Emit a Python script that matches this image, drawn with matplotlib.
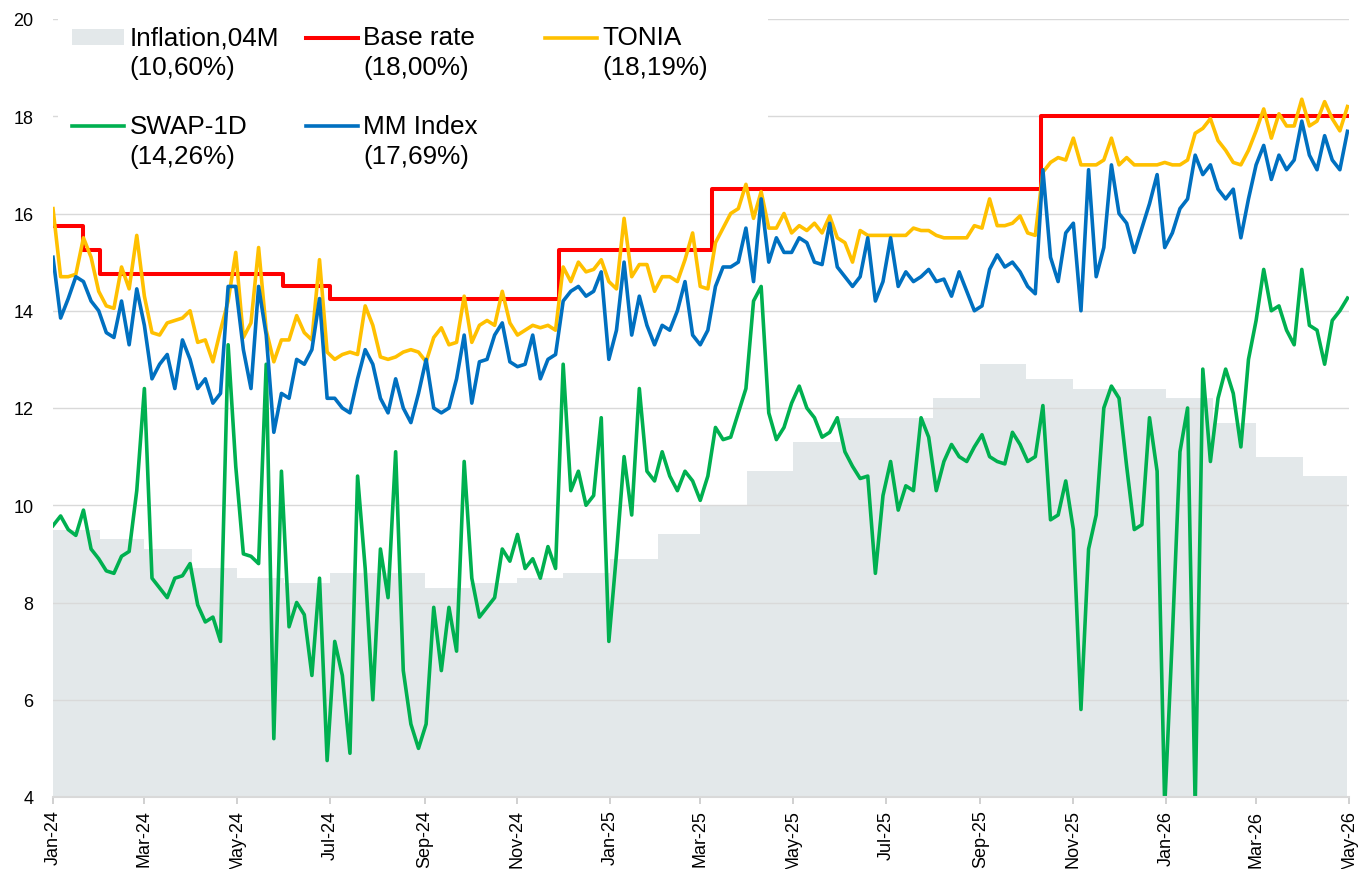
import matplotlib.pyplot as plt
import matplotlib.dates as mdates
from matplotlib.artist import Artist
from matplotlib.patches import Rectangle
from matplotlib.transforms import Affine2D
import pandas as pd

plt.rcParams['font.family'] = ['Liberation Sans', 'DejaVu Sans']

obs_dates = pd.date_range('2024-01-01', periods=171, freq='5D')

tonia = [
    16.1, 14.7, 14.7, 14.75, 15.5, 15.1, 14.4, 14.1, 14.05, 14.9,
    14.45, 15.55, 14.3, 13.55, 13.5, 13.75, 13.8, 13.85, 14.0, 13.35,
    13.4, 12.95, 13.6, 14.2, 15.2, 13.45, 13.75, 15.3, 13.6, 12.95,
    13.4, 13.4, 13.9, 13.55, 13.4, 15.05, 13.15, 13.0, 13.1, 13.15,
    13.1, 14.1, 13.7, 13.05, 13.0, 13.05, 13.15, 13.2, 13.15, 12.95,
    13.45, 13.65, 13.3, 13.35, 14.3, 13.35, 13.7, 13.8, 13.7, 14.4,
    13.75, 13.5, 13.6, 13.7, 13.65, 13.7, 13.6, 14.9, 14.6, 15.0,
    14.8, 14.85, 15.05, 14.6, 14.45, 15.9, 14.7, 14.95, 14.95, 14.4,
    14.7, 14.7, 14.6, 15.05, 15.6, 14.5, 14.45, 15.4, 15.7, 16.0,
    16.1, 16.6, 15.9, 16.45, 15.7, 15.7, 16.0, 15.6, 15.75, 15.65,
    15.8, 15.6, 15.95, 15.5, 15.4, 15.0, 15.65, 15.55, 15.55, 15.55,
    15.55, 15.55, 15.55, 15.7, 15.65, 15.65, 15.55, 15.5, 15.5, 15.5,
    15.5, 15.75, 15.7, 16.3, 15.75, 15.75, 15.8, 15.95, 15.6, 15.55,
    16.85, 17.05, 17.15, 17.1, 17.55, 17.0, 17.0, 17.0, 17.1, 17.55,
    17.0, 17.15, 17.0, 17.0, 17.0, 17.0, 17.05, 17.0, 17.0, 17.1,
    17.65, 17.75, 17.95, 17.5, 17.3, 17.05, 17.0, 17.3, 17.7, 18.15,
    17.55, 18.05, 17.8, 17.8, 18.35, 17.8, 17.9, 18.3, 17.95, 17.7,
    18.2,
]

mm_index = [
    15.1, 13.85, 14.25, 14.7, 14.6, 14.2, 14.0, 13.55, 13.45, 14.2,
    13.3, 14.45, 13.7, 12.6, 12.9, 13.1, 12.4, 13.4, 13.0, 12.4,
    12.6, 12.1, 12.3, 14.5, 14.5, 13.2, 12.4, 14.5, 13.5, 11.5,
    12.3, 12.2, 13.0, 12.9, 13.2, 14.25, 12.2, 12.2, 12.0, 11.9,
    12.6, 13.2, 12.9, 12.2, 11.9, 12.6, 12.0, 11.7, 12.3, 13.0,
    12.0, 11.9, 12.0, 12.6, 13.5, 12.1, 12.95, 13.0, 13.5, 13.75,
    12.95, 12.85, 12.9, 13.5, 12.6, 13.0, 13.1, 14.2, 14.4, 14.5,
    14.3, 14.4, 14.8, 13.0, 13.6, 15.0, 13.5, 14.3, 13.7, 13.3,
    13.7, 13.6, 14.0, 14.6, 13.5, 13.3, 13.6, 14.5, 14.9, 14.9,
    15.0, 15.7, 14.6, 16.3, 15.0, 15.5, 15.2, 15.2, 15.5, 15.4,
    15.0, 14.95, 15.8, 14.9, 14.7, 14.5, 14.7, 15.5, 14.2, 14.6,
    15.5, 14.5, 14.8, 14.6, 14.7, 14.85, 14.6, 14.65, 14.3, 14.8,
    14.4, 14.0, 14.1, 14.85, 15.15, 14.9, 15.0, 14.8, 14.5, 14.35,
    16.9, 15.1, 14.6, 15.6, 15.8, 14.0, 16.9, 14.7, 15.3, 17.0,
    16.0, 15.8, 15.2, 15.7, 16.2, 16.8, 15.3, 15.6, 16.1, 16.3,
    17.2, 16.8, 17.0, 16.5, 16.3, 16.5, 15.5, 16.3, 17.0, 17.4,
    16.7, 17.2, 16.9, 17.1, 17.9, 17.2, 16.9, 17.6, 17.1, 16.9,
    17.69,
]

swap_1d = [
    9.58, 9.78, 9.5, 9.38, 9.9, 9.1, 8.9, 8.65, 8.6, 8.95,
    9.05, 10.3, 12.4, 8.5, 8.3, 8.1, 8.5, 8.55, 8.8, 7.95,
    7.6, 7.7, 7.2, 13.3, 10.8, 9.0, 8.95, 8.8, 12.9, 5.2,
    10.7, 7.5, 8.0, 7.75, 6.5, 8.5, 4.75, 7.2, 6.5, 4.9,
    10.6, 8.7, 6.0, 9.1, 8.1, 11.1, 6.6, 5.5, 5.0, 5.5,
    7.9, 6.6, 7.9, 7.0, 10.9, 8.5, 7.7, 7.9, 8.1, 9.1,
    8.85, 9.4, 8.7, 8.9, 8.5, 9.15, 8.7, 12.9, 10.3, 10.7,
    10.0, 10.2, 11.8, 7.2, 9.0, 11.0, 9.8, 12.4, 10.7, 10.5,
    11.1, 10.6, 10.3, 10.7, 10.5, 10.1, 10.6, 11.6, 11.35, 11.4,
    11.9, 12.4, 14.2, 14.5, 11.9, 11.35, 11.6, 12.1, 12.45, 12.0,
    11.8, 11.4, 11.5, 11.8, 11.1, 10.8, 10.55, 10.6, 8.6, 10.2,
    10.9, 9.9, 10.4, 10.3, 11.8, 11.4, 10.3, 10.9, 11.25, 11.0,
    10.9, 11.2, 11.45, 11.0, 10.9, 10.85, 11.5, 11.25, 10.9, 11.0,
    12.05, 9.7, 9.8, 10.5, 9.5, 5.8, 9.1, 9.8, 12.0, 12.45,
    12.2, 10.8, 9.5, 9.6, 11.8, 10.7, 3.8, 7.3, 11.1, 12.0,
    3.8, 12.8, 10.9, 12.2, 12.8, 12.3, 11.2, 13.0, 13.8, 14.85,
    14.0, 14.1, 13.6, 13.3, 14.85, 13.7, 13.6, 12.9, 13.8, 14.0,
    14.26,
]

# Base rate: date of each decision and the new level
base_rate_dates = pd.to_datetime([
    '2024-01-01', '2024-01-21', '2024-02-01', '2024-05-31', '2024-07-01',
    '2024-11-28', '2025-03-09', '2025-10-11', '2026-04-30',
])
base_rate = [15.75, 15.25, 14.75, 14.5, 14.25, 15.25, 16.5, 18.0, 18.0]

# Monthly inflation
infl_months = pd.date_range('2024-01-01', periods=28, freq='MS')
inflation = [
    9.5, 9.3, 9.1, 8.7, 8.5, 8.4, 8.6, 8.6, 8.3, 8.4, 8.5, 8.6,
    8.9, 9.4, 10.0, 10.7, 11.3, 11.8, 11.8, 12.2, 12.9, 12.6, 12.4, 12.4,
    12.2, 11.7, 11.0, 10.6,
]

labels = {
    'infl': 'Inflation,04M\n(10,60%)',
    'base': 'Base rate\n(18,00%)',
    'tonia': 'TONIA\n(18,19%)',
    'swap': 'SWAP-1D\n(14,26%)',
    'mm': 'MM Index\n(17,69%)',
}

fig, ax = plt.subplots(figsize=(13.59, 8.70), dpi=100)
fig.subplots_adjust(left=53 / 1359, right=1349 / 1359, bottom=72 / 870, top=850 / 870)

infl_x = list(infl_months) + [pd.Timestamp('2026-04-30')]
infl_y = inflation + [inflation[-1]]
h_infl = ax.fill_between(infl_x, infl_y, 0, step='post', color='#e3e8ea',
                         lw=0, zorder=0.3, label=labels['infl'])
h_base, = ax.plot(base_rate_dates, base_rate, drawstyle='steps-post',
                  color='#ff0000', lw=2.9, label=labels['base'], zorder=2)
h_tonia, = ax.plot(obs_dates, tonia, color='#ffc000', lw=2.6,
                   label=labels['tonia'], zorder=2.1)
h_swap, = ax.plot(obs_dates, swap_1d, color='#00b050', lw=2.6,
                  label=labels['swap'], zorder=2.2)
h_mm, = ax.plot(obs_dates, mm_index, color='#0070c0', lw=2.6,
                label=labels['mm'], zorder=2.3)

ax.set_ylim(4, 20)
ax.set_xlim(pd.Timestamp('2024-01-01'), pd.Timestamp('2026-05-01'))
ax.set_yticks(range(4, 21, 2))
ax.xaxis.set_major_locator(mdates.MonthLocator(bymonth=(1, 3, 5, 7, 9, 11)))
ax.xaxis.set_major_formatter(mdates.DateFormatter('%b-%y'))
plt.setp(ax.get_xticklabels(), rotation=90)

ax.set_axisbelow(True)
ax.grid(axis='y', color='#d9d9d9', lw=1.0)
for side in ('top', 'right', 'left'):
    ax.spines[side].set_visible(False)
ax.spines['bottom'].set_color('#d9d9d9')
ax.spines['bottom'].set_linewidth(1.5)
ax.tick_params(axis='x', length=5, width=1.2, color='#c8c8c8', pad=4, labelsize=13)
ax.tick_params(axis='y', length=0, pad=14, labelsize=13)

# white panel behind the legend hides the upper grid lines
ax.add_patch(Rectangle((0.004, 0.795), 0.548, 0.26, transform=ax.transAxes,
                       facecolor='white', edgecolor='none', zorder=1.5, clip_on=False))

leg_kw = dict(loc='upper left', frameon=False, fontsize=18.8, handlelength=2.0,
              handleheight=0.55, handletextpad=0.2, labelspacing=1.35,
              borderpad=0, borderaxespad=0)
leg_a = ax.legend(handles=[h_infl, h_swap, h_base, h_mm], ncol=2,
                  columnspacing=1.02, bbox_to_anchor=(0.0147, 0.992), **leg_kw)
ax.add_artist(leg_a)
leg_b = ax.legend(handles=[h_tonia], bbox_to_anchor=(0.3796, 0.992), **leg_kw)

# keep each legend key level with the first line of its two-line label
for leg in (leg_a, leg_b):
    for t in leg.get_texts():
        t.set_linespacing(1.3)
    for h in leg.legend_handles:
        h.set_transform(Artist.get_transform(h) + Affine2D().translate(0, 15.5))

fig.savefig('out.png', dpi=100)
